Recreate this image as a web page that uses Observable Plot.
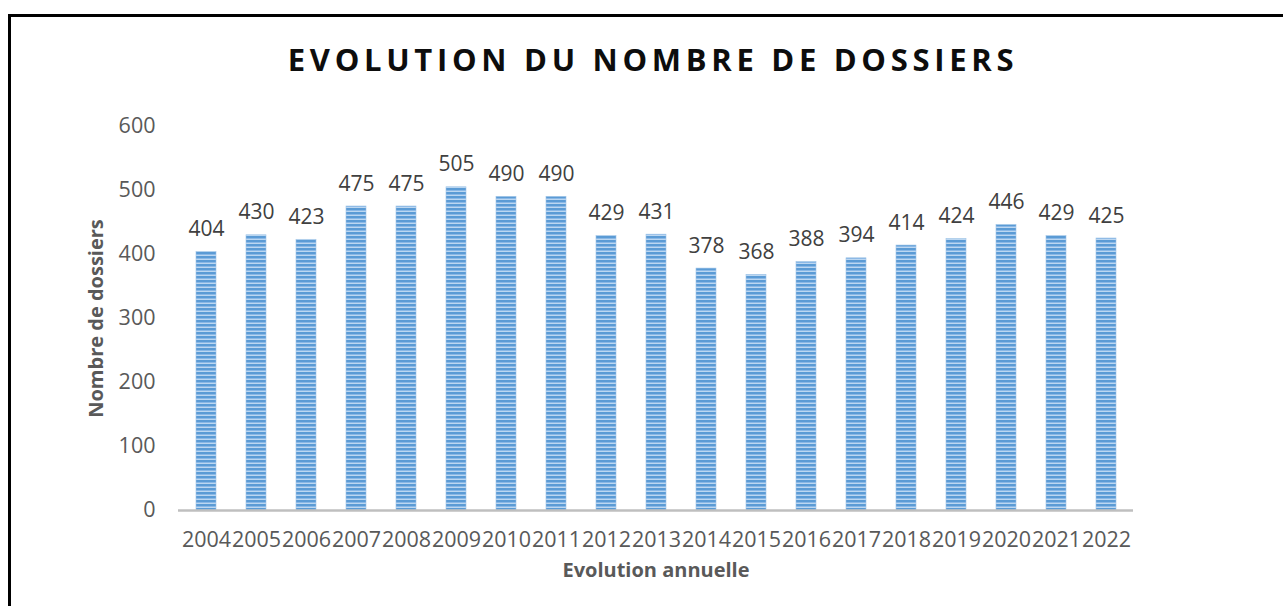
<!DOCTYPE html>
<html>
<head>
<meta charset="utf-8">
<script src="https://cdn.jsdelivr.net/npm/d3@7"></script>
<script src="https://cdn.jsdelivr.net/npm/@observablehq/plot@0.6"></script>
<style>
  html, body { margin: 0; padding: 0; background: #fff; }
  #wrap { position: relative; width: 1283px; height: 606px; overflow: hidden; font-family: "Open Sans", sans-serif; }
  #frame { position: absolute; left: 8px; top: 14px; width: 1400px; height: 700px; border-left: 3px solid #000; border-top: 3px solid #000; }
  #title { position: absolute; left: 3px; width: 1300px; top: 44px; text-align: center; font-size: 31px; line-height: 31px; font-weight: 700; letter-spacing: 4.7px; color: #0d0d0d; }
  #chart { position: absolute; left: 0; top: 0; }
</style>
</head>
<body>
<div id="wrap">
  <div id="frame"></div>
  <div id="title">EVOLUTION DU NOMBRE DE DOSSIERS</div>
  <div id="chart"></div>
</div>
<script>
const years = ["2004","2005","2006","2007","2008","2009","2010","2011","2012","2013","2014","2015","2016","2017","2018","2019","2020","2021","2022"];
const dossiers = [404,430,423,475,475,505,490,490,429,431,378,368,388,394,414,424,446,429,425];
const yTicks = [0,100,200,300,400,500,600];

const data = years.map((y, i) => ({year: y, value: dossiers[i]}));

const chart = Plot.plot({
  width: 1283,
  height: 606,
  marginLeft: 178,
  marginRight: 150,
  marginTop: 126,
  marginBottom: 96,
  style: {fontFamily: "Open Sans", fontSize: "21px", color: "#595959", background: "transparent", overflow: "visible"},
  x: {domain: years, paddingInner: 0.6, paddingOuter: 0.32, label: null},
  y: {domain: [0, 600], label: null},
  marks: [
    Plot.axisX({tickSize: 0, tickPadding: 21, fontSize: 21.5, color: "#595959",
      label: "Evolution annuelle", labelAnchor: "center", labelOffset: 66, labelArrow: "none"}),
    Plot.axisY({ticks: yTicks, tickSize: 0, tickPadding: 23, fontSize: 21.5, color: "#595959",
      label: "Nombre de dossiers", labelAnchor: "center", labelOffset: 90, labelArrow: "none"}),
    Plot.barY(data, {x: "year", y: "value", fill: "url(#stripes)", stroke: "#9dc3e6", strokeWidth: 0.6}),
    Plot.ruleY([0], {stroke: "#bfbfbf", strokeWidth: 2.5}),
    Plot.text(data, {x: "year", y: "value", text: d => String(d.value), lineAnchor: "bottom", dy: -16, fontSize: 21, fill: "#404040"})
  ]
});

const svg = d3.select(chart);
const defs = svg.insert("defs", ":first-child");
const pat = defs.append("pattern").attr("id", "stripes").attr("patternUnits", "userSpaceOnUse")
  .attr("width", 8).attr("height", 4);
pat.append("rect").attr("width", 8).attr("height", 4).attr("fill", "#8ab8e6");
pat.append("rect").attr("y", 0).attr("width", 8).attr("height", 2).attr("fill", "#5b9bd5");
pat.append("rect").attr("y", 3).attr("width", 8).attr("height", 1).attr("fill", "#bcd7f1");

// style axis labels (and strip any arrow glyphs)
svg.selectAll("g[aria-label='x-axis label'] text, g[aria-label='y-axis label'] text")
  .attr("font-weight", 700).attr("font-size", 20).attr("fill", "#595959")
  .each(function() { this.textContent = this.textContent.replace(/[\u2190-\u2193]/g, "").trim(); });

document.getElementById("chart").appendChild(chart);
</script>
</body>
</html>
